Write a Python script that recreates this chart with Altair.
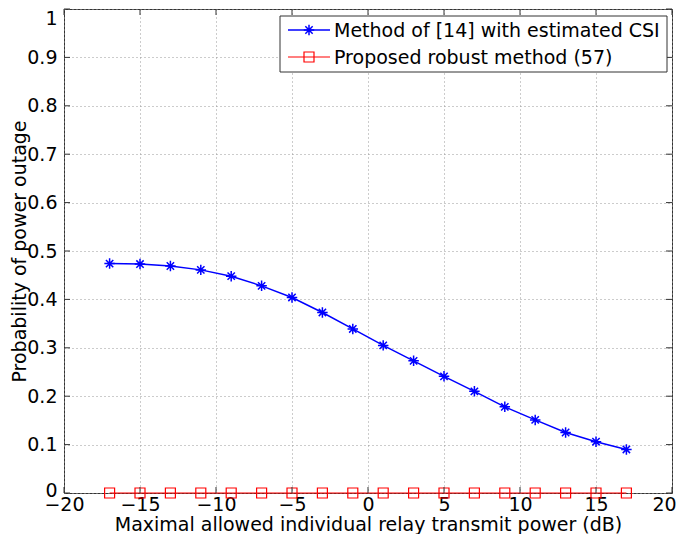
import altair as alt
import pandas as pd

# ---- data ----
x_vals = [-17, -15, -13, -11, -9, -7, -5, -3, -1, 1, 3, 5, 7, 9, 11, 13, 15, 17]
blue_vals = [0.474, 0.473, 0.469, 0.461, 0.448, 0.428, 0.404, 0.373, 0.339,
             0.305, 0.273, 0.241, 0.210, 0.178, 0.151, 0.125, 0.106, 0.090]
red_vals = [0.0] * 18
x_ticks = [-20, -15, -10, -5, 0, 5, 10, 15, 20]
y_ticks = [0, 0.1, 0.2, 0.3, 0.4, 0.5, 0.6, 0.7, 0.8, 0.9, 1]
series = ["Method of [14] with estimated CSI", "Proposed robust method (57)"]
x_title = "Maximal allowed individual relay transmit power (dB)"
y_title = "Probability of power outage"

W, H = 608, 484
FONT = "DejaVu Sans"
FS = 19
BLUE = "#0000ff"
RED = "#ff0000"
FRAME = "#333333"
ASTER = "M-1,0L1,0M0,-1L0,1M-0.7,-0.7L0.7,0.7M-0.7,0.7L0.7,-0.7"

blue_df = pd.DataFrame({"x": x_vals, "y": blue_vals})
red_df = pd.DataFrame({"x": x_vals, "y": red_vals})
xt_df = pd.DataFrame({"t": x_ticks})
yt_df = pd.DataFrame({"t": y_ticks})
one = alt.Data(values=[{"a": 1}])

xs = alt.Scale(domain=[-20, 20], nice=False, zero=False)
ys = alt.Scale(domain=[0, 1], nice=False)

X = alt.X("x:Q", scale=xs, title=x_title,
          axis=alt.Axis(values=x_ticks, format="~g", grid=True, ticks=False,
                        domain=False, labelPadding=2, labelFlush=False,
                        labelOffset={"condition": {"test": "datum.value == 20", "value": -8}, "value": 0},
                        titleBaseline="alphabetic", titleY=37, titleX=W / 2))
Y = alt.Y("y:Q", scale=ys, title=y_title,
          axis=alt.Axis(values=y_ticks, format="~g", grid=True, ticks=False,
                        domain=False, labelPadding=7, labelFlush=False,
                        labelOffset={"expr": "datum.value == 1 ? 9 : (datum.value == 0 ? -3 : 0)"},
                        titleBaseline="alphabetic", titleAngle=-90, titleX=-39, titleY=H / 2))

blue_line = alt.Chart(blue_df).mark_line(color=BLUE, strokeWidth=1.5).encode(x=X, y=Y)
blue_pts = alt.Chart(blue_df).mark_point(shape=ASTER, filled=False, color=BLUE,
                                         size=110, strokeWidth=1.5, opacity=1).encode(x=X, y=Y)
red_line = alt.Chart(red_df).mark_line(color=RED, strokeWidth=1.2, clip=False).encode(x=X, y=Y)
red_pts = alt.Chart(red_df).mark_point(shape="square", filled=False, color=RED,
                                       size=100, strokeWidth=1.2, opacity=1,
                                       clip=False).encode(x=X, y=Y)

TL = 6
tick_b = alt.Chart(xt_df).mark_rule(color=FRAME).encode(
    x=alt.X("t:Q", scale=xs), y=alt.value(H), y2=alt.value(H - TL))
tick_t = alt.Chart(xt_df).mark_rule(color=FRAME).encode(
    x=alt.X("t:Q", scale=xs), y=alt.value(0), y2=alt.value(TL))
tick_l = alt.Chart(yt_df).mark_rule(color=FRAME).encode(
    y=alt.Y("t:Q", scale=ys), x=alt.value(0), x2=alt.value(TL))
tick_r = alt.Chart(yt_df).mark_rule(color=FRAME).encode(
    y=alt.Y("t:Q", scale=ys), x=alt.value(W), x2=alt.value(W - TL))

# ---- legend ----
LX0, LX1, LY0, LY1 = 216, 603, 7, 63
IY = [21, 48]
leg_box = alt.Chart(one).mark_rect(fill="white", stroke=FRAME, strokeWidth=1).encode(
    x=alt.value(LX0), x2=alt.value(LX1), y=alt.value(LY0), y2=alt.value(LY1))
leg_layers = []
for i, (col, shp, sz) in enumerate([(BLUE, ASTER, 110), (RED, "square", 100)]):
    leg_layers.append(alt.Chart(one).mark_rule(color=col, strokeWidth=1.5 if i == 0 else 1.2).encode(
        x=alt.value(224), x2=alt.value(266), y=alt.value(IY[i])))
    leg_layers.append(alt.Chart(one).mark_point(shape=shp, filled=False, color=col, size=sz,
                                                strokeWidth=1.5 if i == 0 else 1.2, opacity=1).encode(
        x=alt.value(245), y=alt.value(IY[i])))
    leg_layers.append(alt.Chart(one).mark_text(align="left", baseline="middle", font=FONT,
                                               fontSize=FS, color="black").encode(
        x=alt.value(270), y=alt.value(IY[i] + 1), text=alt.value(series[i])))

chart = alt.layer(
    blue_line, blue_pts, red_line, red_pts, tick_b, tick_t, tick_l, tick_r,
    leg_box, *leg_layers
).properties(
    width=W, height=H,
    autosize=alt.AutoSizeParams(type="none"),
    padding={"left": 56, "top": 1, "right": 5, "bottom": 41},
).configure_view(
    stroke=FRAME, strokeWidth=1
).configure_axis(
    labelFont=FONT, titleFont=FONT, labelFontSize=FS, titleFontSize=FS,
    labelColor="black", titleColor="black", titleFontWeight="normal",
    gridColor="#999999", gridDash=[1, 3], gridWidth=1, gridOpacity=1
)

chart.save("out.html", embed_options={"renderer": "svg", "actions": False})
